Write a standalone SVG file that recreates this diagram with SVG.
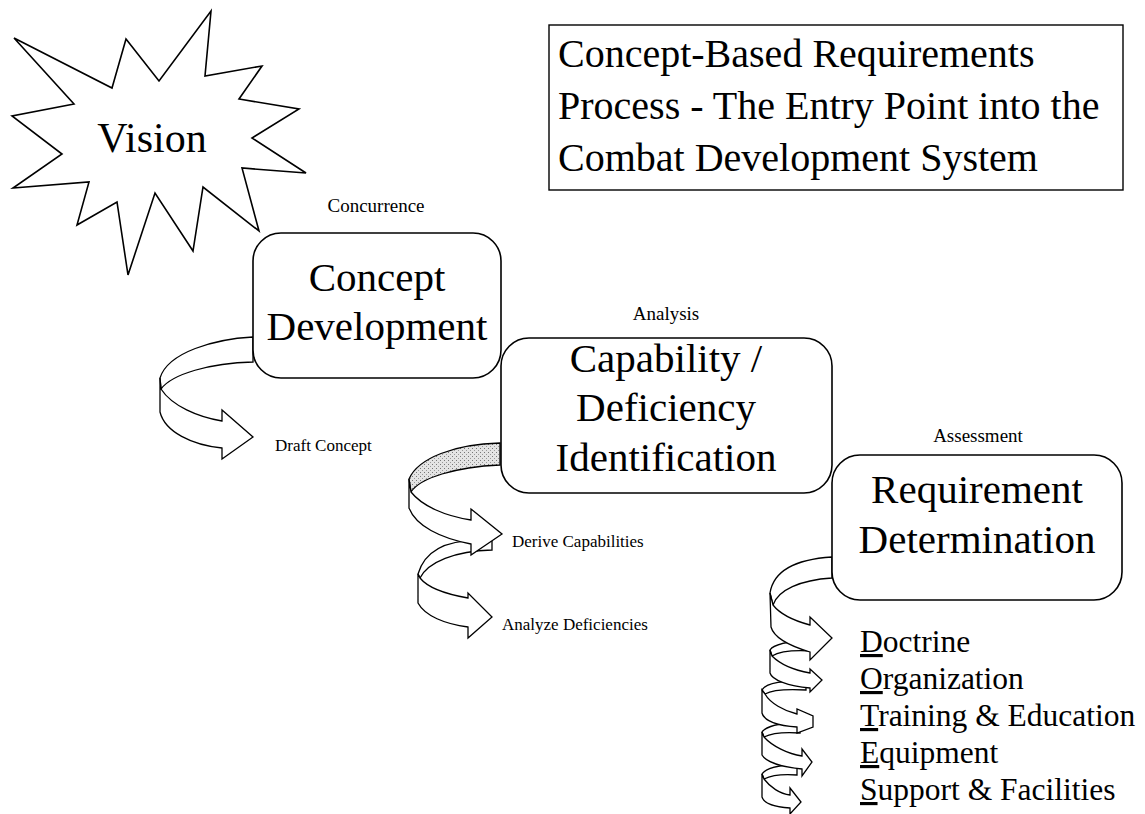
<svg xmlns="http://www.w3.org/2000/svg" width="1145" height="814" viewBox="0 0 1145 814">
<style>
.t{font-family:"Liberation Serif","Times New Roman",serif;fill:#000}
.big{font-size:41px}
.ttl{font-size:40px}
.lbl{font-size:19px}
.sm{font-size:17px}
.ls{font-size:31.5px}
.box{fill:#fff;stroke:#000;stroke-width:1.6}
.rb{fill:#fff;stroke:#000;stroke-width:1.3;stroke-linejoin:miter}
.sh{fill:url(#stip);stroke:#000;stroke-width:1.3}
.u{text-decoration:underline}
</style>
<defs>
<pattern id="stip" width="4" height="4" patternUnits="userSpaceOnUse">
<rect width="4" height="4" fill="#e4e4e4"/>
<rect x="0" y="0" width="1" height="1" fill="#777"/>
<rect x="2" y="2" width="1" height="1" fill="#999"/>
</pattern>
</defs>
<rect width="1145" height="814" fill="#fff"/>

<g id="vision">
<polygon class="box" points="14,38 112,88 126,39 159,81 211,11 205,76 262,66 239,99 299,109 252,138 306,173 242,168 259,231 203,187 193,251 155,193 128,275 117,202 77,225 89,182 13,188 62,154 12,116 74,104"/>
<text class="t" x="152" y="152" font-size="42" text-anchor="middle">Vision</text>
</g>

<g id="title">
<rect x="549" y="25" width="574" height="165" fill="#fff" stroke="#000" stroke-width="1.4"/>
<text class="t ttl" x="558" y="67">Concept-Based Requirements</text>
<text class="t ttl" x="558" y="119">Process - The Entry Point into the</text>
<text class="t ttl" x="558" y="171">Combat Development System</text>
</g>

<g id="connectors">
<!-- Draft Concept ribbon -->
<path class="rb" d="M253,337 C215,339 168,352 160,378 L161,389 C172,374 210,363 253,362 Z"/>
<path class="rb" d="M160,378 L160,412 C165,432 192,445 222,448 L222,459 L253,437 L222,410 L222,421 C198,417 172,406 161,389 Z"/>
<!-- Capability ribbons -->
<path class="rb" d="M492,541 C468,539 428,540 418,574 L420,578 C428,562 455,551 492,550 Z"/>
<path class="sh" d="M500,443 C455,444 418,458 409,479 L411,492 C420,478 455,467 500,465 Z"/>
<path class="rb" d="M409,479 L409,508 C416,526 440,538 471,544 L471,555 L502,534 L471,509 L471,520 C445,516 422,506 411,492 Z"/>
<path class="rb" d="M418,574 L418,603 C425,616 445,624 468,627 L468,638 L492,617 L468,593 L468,598 C445,594 428,588 420,578 Z"/>
<!-- Requirement ribbons: back bands -->
<path class="rb" d="M832,557 C800,559 774,568 770,593 L773,605 C778,590 800,580 832,578 Z"/>
<path class="rb" d="M812,640 C792,641 774,643 770,650 L772,656 C780,651 795,650 812,651 Z"/>
<path class="rb" d="M806,680 C786,681 766,682 762,690 L765,694 C772,690 788,689 806,690 Z"/>
<path class="rb" d="M800,722 C782,723 766,726 762,732 L764,737 C772,733 786,732 800,733 Z"/>
<path class="rb" d="M797,764 C780,765 766,768 762,774 L764,779 C772,775 784,774 797,775 Z"/>
<!-- Requirement ribbons: front bands -->
<path class="rb" d="M770,593 L771,627 C774,638 790,646 810,652 L810,660 L832,638 L810,617 L810,625 C795,621 780,614 773,605 Z"/>
<path class="rb" d="M770,650 L770,673 C772,680 788,686 810,688 L810,692 L822,680 L810,669 L810,673 C793,670 780,664 772,656 Z"/>
<path class="rb" d="M762,690 L762,713 C764,721 778,726 797,727 L797,733 L813,727 L813,716 L797,709 L797,714 C784,711 770,703 765,694 Z"/>
<path class="rb" d="M762,732 L762,755 C766,762 782,767 802,769 L802,776 L812,762 L802,749 L802,756 C788,754 772,746 764,737 Z"/>
<path class="rb" d="M762,774 L762,797 C764,804 775,807 790,808 L790,814 L801,802 L790,788 L790,795 C780,794 770,787 764,779 Z"/>
<text class="t sm" x="275" y="451">Draft Concept</text>
<text class="t sm" x="512" y="547">Derive Capabilities</text>
<text class="t sm" x="502" y="630">Analyze Deficiencies</text>
</g>

<g id="concept">
<rect class="box" x="253" y="233" width="248" height="145" rx="28"/>
<text class="t lbl" x="376" y="212" text-anchor="middle">Concurrence</text>
<text class="t big" x="377" y="291" text-anchor="middle">Concept</text>
<text class="t big" x="377" y="340" text-anchor="middle">Development</text>
</g>

<g id="capability">
<rect class="box" x="501" y="338" width="331" height="155" rx="28"/>
<text class="t lbl" x="666" y="320" text-anchor="middle">Analysis</text>
<text class="t big" x="666" y="372" text-anchor="middle">Capability /</text>
<text class="t big" x="666" y="421" text-anchor="middle">Deficiency</text>
<text class="t big" x="666" y="471" text-anchor="middle">Identification</text>
</g>

<g id="requirement">
<rect class="box" x="832" y="455" width="290" height="145" rx="28"/>
<text class="t lbl" x="978" y="442" text-anchor="middle">Assessment</text>
<text class="t big" x="977" y="503" text-anchor="middle">Requirement</text>
<text class="t big" x="977" y="553" text-anchor="middle">Determination</text>
</g>

<g id="dotes">
<text class="t ls" x="860" y="652"><tspan class="u">D</tspan>octrine</text>
<text class="t ls" x="860" y="689"><tspan class="u">O</tspan>rganization</text>
<text class="t ls" x="860" y="726"><tspan class="u">T</tspan>raining &amp; Education</text>
<text class="t ls" x="860" y="763"><tspan class="u">E</tspan>quipment</text>
<text class="t ls" x="860" y="800"><tspan class="u">S</tspan>upport &amp; Facilities</text>
</g>
</svg>
